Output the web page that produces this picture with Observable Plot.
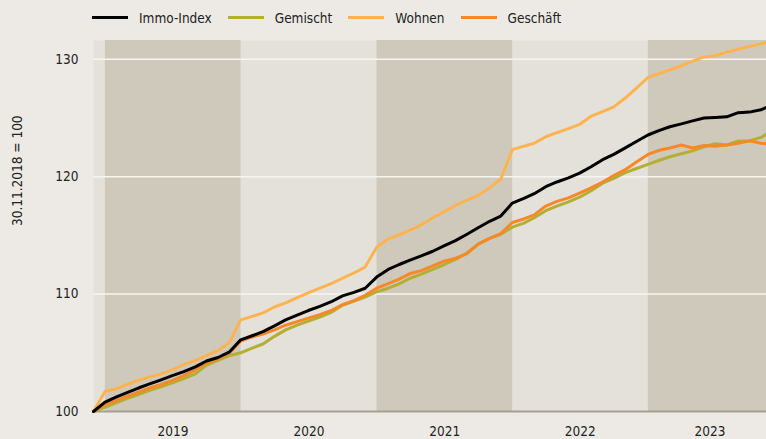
<!DOCTYPE html>
<html>
<head>
<meta charset="utf-8">
<script src="https://cdn.jsdelivr.net/npm/d3@7"></script>
<script src="https://cdn.jsdelivr.net/npm/@observablehq/plot@0.6"></script>
<style>
  html, body { margin: 0; padding: 0; background: #edeae5; }
  body { width: 766px; height: 439px; overflow: hidden; font-family: "DejaVu Sans Condensed", "Liberation Sans Narrow", sans-serif; color: #222; }
  #legend { height: 35px; display: flex; align-items: center; padding-left: 92px; font-size: 13.5px; }
  .item { display: flex; align-items: center; margin-right: 16px; }
  .sw { width: 36px; height: 3px; margin-right: 11px; }
</style>
</head>
<body>
<div id="legend"></div>
<div id="chart"></div>
<script>
const seriesNames = ["Immo-Index", "Gemischt", "Wohnen", "Geschäft"];
const seriesColors = ["#000000", "#b3af35", "#fdb34f", "#f6882a"];

const immo = [100, 100.8,
 101.25,101.6,102.0,102.35,102.7,103.05,103.4,103.8,104.3,104.6,105.05,106.1,
 106.45,106.8,107.3,107.8,108.2,108.6,108.95,109.35,109.85,110.15,110.5,111.45,
 112.1,112.5,112.9,113.25,113.65,114.1,114.55,115.1,115.65,116.2,116.65,117.75,
 118.15,118.55,119.15,119.55,119.9,120.3,120.85,121.45,121.9,122.45,123.0,123.55,
 123.95,124.25,124.5,124.75,125.0,125.05,125.1,125.45,125.5,125.7,125.9];

const gemischt = [100, 100.35,
 100.75,101.1,101.45,101.8,102.1,102.45,102.8,103.2,103.95,104.35,104.75,105.0,
 105.4,105.75,106.4,106.95,107.35,107.7,108.05,108.45,109.05,109.4,109.75,110.2,
 110.5,110.85,111.35,111.7,112.1,112.5,112.95,113.5,114.25,114.75,115.1,115.7,
 116.05,116.5,117.1,117.5,117.85,118.25,118.8,119.45,119.85,120.35,120.7,121.05,
 121.4,121.7,121.95,122.2,122.55,122.8,122.7,123.05,123.05,123.35,123.6];

const wohnen = [100, 101.7,
 101.95,102.3,102.65,102.95,103.2,103.55,104.0,104.35,104.75,105.2,105.85,107.8,
 108.1,108.4,108.9,109.25,109.7,110.1,110.5,110.9,111.35,111.8,112.3,114.0,
 114.7,115.05,115.45,115.9,116.5,117.0,117.55,118.0,118.4,119.05,119.8,122.3,
 122.6,122.85,123.4,123.75,124.1,124.45,125.15,125.55,125.95,126.7,127.55,128.45,
 128.8,129.1,129.45,129.85,130.2,130.3,130.6,130.85,131.1,131.3,131.45];

const geschaeft = [100, 100.6,
 100.95,101.3,101.65,102.0,102.3,102.65,103.05,103.55,104.15,104.5,104.95,106.0,
 106.35,106.6,106.95,107.35,107.65,107.95,108.25,108.6,109.1,109.45,109.9,110.5,
 110.9,111.25,111.75,112.0,112.4,112.8,113.05,113.45,114.25,114.75,115.15,116.1,
 116.4,116.75,117.5,117.9,118.2,118.6,119.05,119.55,120.1,120.6,121.25,121.9,
 122.25,122.45,122.7,122.45,122.65,122.6,122.7,122.85,123.05,122.85,122.8];

// month-end dates 30.11.2018 ... 31.10.2023, plus last reading 15.11.2023
const lastDate = new Date(Date.UTC(2023, 10, 15));
const dates = d3.range(60).map(i => d3.utcDay.offset(d3.utcMonth.offset(new Date(Date.UTC(2018, 11, 1)), i), -1)).concat([lastDate]);

const shadedYears = [2019, 2021, 2023];
const yearLabels = ["2019", "2020", "2021", "2022", "2023"];
const yearLabelDates = [new Date(Date.UTC(2019,6,2)), new Date(Date.UTC(2020,6,2)), new Date(Date.UTC(2021,6,2)), new Date(Date.UTC(2022,6,2)), new Date(Date.UTC(2023,5,16))];
const yTicks = [100, 110, 120, 130];
const gridValues = [110, 120, 130];
const yLabel = "30.11.2018 = 100";

const allSeries = [immo, gemischt, wohnen, geschaeft];
const rows = [];
seriesNames.forEach((name, s) => allSeries[s].forEach((v, i) => rows.push({series: name, date: dates[i], value: v})));

const bands = shadedYears.map(y => ({
  x1: new Date(Date.UTC(y, 0, 1)),
  x2: new Date(Math.min(Date.UTC(y + 1, 0, 1), +lastDate))
}));

const drawOrder = ["Gemischt", "Geschäft", "Wohnen", "Immo-Index"];

const chart = Plot.plot({
  width: 766,
  height: 404,
  marginLeft: 93,
  marginRight: 0,
  marginTop: 5,
  marginBottom: 28,
  style: {fontFamily: '"DejaVu Sans Condensed", "Liberation Sans Narrow", sans-serif', fontSize: "13.5px", color: "#222", background: "transparent"},
  x: {type: "utc", domain: [dates[0], lastDate], ticks: yearLabelDates, tickFormat: d => d3.utcFormat("%Y")(d), tickSize: 0, tickPadding: 15, label: null},
  y: {domain: [100, 131.6], ticks: yTicks, tickSize: 0, tickPadding: 15, label: null},
  color: {domain: seriesNames, range: seriesColors},
  marks: [
    Plot.frame({fill: "#e4e1da", stroke: null}),
    Plot.rect(bands, {x1: "x1", x2: "x2", fill: "#cfc9bb"}),
    Plot.ruleY(gridValues, {stroke: "#f7f5f1", strokeWidth: 1.5}),
    Plot.ruleY([100], {stroke: "#a59f94", strokeWidth: 2}),
    ...drawOrder.map(name => Plot.line(rows.filter(d => d.series === name), {x: "date", y: "value", stroke: seriesColors[seriesNames.indexOf(name)], strokeWidth: 3, strokeLinejoin: "round"})),
    Plot.text([yLabel], {text: d => d, frameAnchor: "left", rotate: -90, dx: -76, fontSize: 13.5, fill: "#222"})
  ]
});
document.getElementById("chart").appendChild(chart);

const legend = document.getElementById("legend");
seriesNames.forEach((name, i) => {
  const item = document.createElement("div");
  item.className = "item";
  const sw = document.createElement("span");
  sw.className = "sw";
  sw.style.background = seriesColors[i];
  const t = document.createElement("span");
  t.textContent = name;
  item.appendChild(sw);
  item.appendChild(t);
  legend.appendChild(item);
});
</script>
</body>
</html>
